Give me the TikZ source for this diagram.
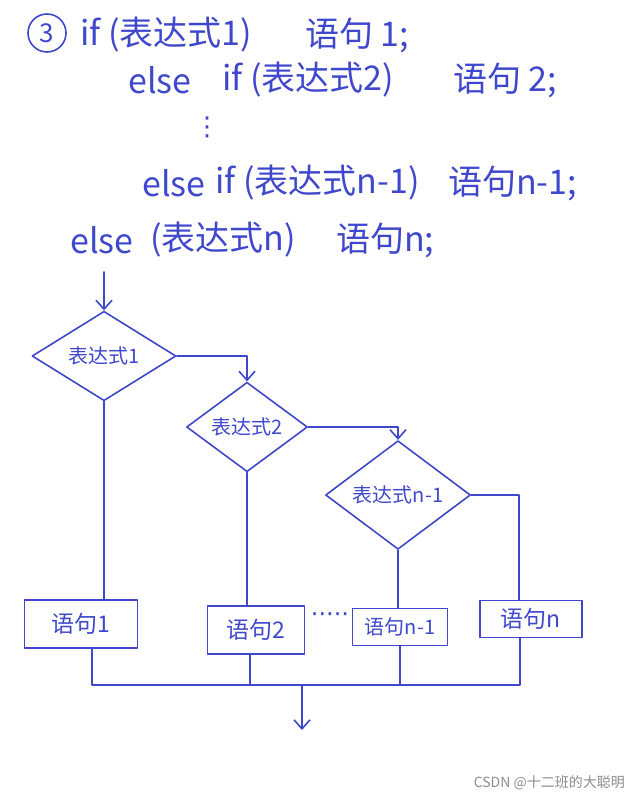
\documentclass[tikz,border=0pt]{standalone}
\usepackage{fontspec}
\setmainfont{Noto Sans CJK SC}
\newfontfamily\dejavu{DejaVu Sans}
\usetikzlibrary{shapes.geometric,arrows.meta,calc}
\definecolor{pen}{RGB}{63,72,204}
\begin{document}
\begin{tikzpicture}[x=1pt,y=-1pt,
  pen/.style={draw=pen,line width=1.6pt,line cap=round,line join=round},
  arr/.style={pen,-{Straight Barb[length=9pt,width=16pt]}},
  big/.style={text=pen,anchor=west,inner sep=0pt,font=\fontsize{34}{38}\selectfont},
  dia/.style={pen,diamond,inner sep=0pt,text=pen,font=\fontsize{20}{22}\selectfont},
  stmt/.style={pen,rectangle,inner sep=0pt,text=pen,font=\fontsize{23}{26}\selectfont}]
\useasboundingbox (0,0) rectangle (638,800);
% code text
\node[pen,circle,inner sep=0pt,minimum size=38pt,text=pen,font=\fontsize{26}{28}\selectfont] (c3) at (47,33) {3};
\node[big] (l1a) at (80,35) {if (表达式1)};
\node[big] (l1b) at (305,35) {语句 1;};
\node[big] (l2a) at (128,80) {else};
\node[big] (l2b) at (222,80) {if (表达式2)};
\node[big] (l2c) at (453,80) {语句 2;};
\node[text=pen,inner sep=0pt,font=\dejavu\fontsize{26}{28}\selectfont] (vd) at (207,127) {⋮};
\node[big] (l4a) at (142,183) {else};
\node[big] (l4b) at (215,183) {if (表达式n-1)};
\node[big] (l4c) at (448,183) {语句n-1;};
\node[big] (l5a) at (70,240) {else};
\node[big] (l5b) at (150,240) {(表达式n)};
\node[big] (l5c) at (336,240) {语句n;};
% flowchart
\coordinate (start) at (104,272);
\node[dia,minimum width=144pt,minimum height=73pt] (d1) at (104,356) {表达式1};
\node[dia,minimum width=121pt,minimum height=67pt] (d2) at (247,427) {表达式2};
\node[dia,minimum width=145pt,minimum height=70pt] (d3) at (398,495) {表达式n-1};
\node[stmt,minimum width=113pt,minimum height=48pt] (b1) at (81,624) {语句1};
\node[stmt,minimum width=97pt,minimum height=48pt] (b2) at (256,630) {语句2};
\node[stmt,minimum width=95pt,minimum height=37pt,font=\fontsize{20}{22}\selectfont] (bn1) at (400,627) {语句n-1};
\node[stmt,minimum width=102pt,minimum height=37pt] (bn) at (531,619) {语句n};
\node[text=pen,inner sep=0pt,font=\dejavu\fontsize{24}{26}\selectfont] (dots) at (330,618) {·····};
\draw[arr] (start) -- (d1.north);
\draw[arr] (d1.east) -| (d2.north);
\draw[arr] (d2.east) -| (d3.north);
\draw[pen] (d3.east) -| ($(bn.north)+(-12,0)$);
\draw[pen] (d1.south) -- (d1.south |- b1.north);
\draw[pen] (d2.south) -- (d2.south |- b2.north);
\draw[pen] (d3.south) -- (d3.south |- bn1.north);
\coordinate (m1) at (92,685);
\coordinate (m2) at (250,685);
\coordinate (m3) at (400,685);
\coordinate (m4) at (520,685);
\coordinate (mx) at (302,685);
\coordinate (end) at (302,730);
\draw[pen] (m1 |- b1.south) -- (m1) -- (m4) -- (m4 |- bn.south);
\draw[pen] (m2 |- b2.south) -- (m2);
\draw[pen] (m3 |- bn1.south) -- (m3);
\draw[arr] (mx) -- (end);
\node[anchor=east,text=black!45,inner sep=0pt,font=\fontsize{14}{16}\selectfont] (wm) at (625,783) {CSDN @十二班的大聪明};
\end{tikzpicture}
\end{document}
